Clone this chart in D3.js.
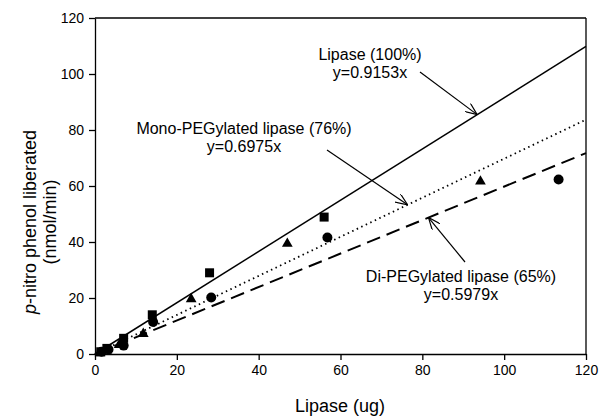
<!doctype html>
<html>
<head>
<meta charset="utf-8">
<script src="https://cdn.jsdelivr.net/npm/d3@7"></script>
<style>
  body { margin: 0; background: #fff; }
  text { font-family: "Liberation Sans", Arial, sans-serif; fill: #000; }
</style>
</head>
<body>
<script>

// Data
var lipaseX = [1.4, 2.9, 7, 14, 28, 56];
var lipaseY = [0.8, 2.0, 5.6, 14.0, 29.0, 48.9];
var monoX = [1.2, 2.9, 5.9, 11.8, 23.5, 47, 94.2];
var monoY = [0.5, 1.5, 3.4, 7.4, 19.8, 39.6, 61.8];
var diX = [1.6, 3.3, 7, 14.2, 28.4, 56.8, 113.3];
var diY = [0.8, 1.6, 3.0, 11.4, 20.2, 41.6, 62.3];

var fitNames = ["Lipase (100%)", "Mono-PEGylated lipase (76%)", "Di-PEGylated lipase (65%)"];
var fitSlopes = [0.9153, 0.6975, 0.5979];
var fitLabels = ["y=0.9153x", "y=0.6975x", "y=0.5979x"];
var arrowAtX = [93.4, 76.4, 81.5]; // where each arrow touches its line

var xTicks = [0, 20, 40, 60, 80, 100, 120];
var yTicks = [0, 20, 40, 60, 80, 100, 120];

// Graphics
var width = 601, height = 419;
var svg = d3.select("body").append("svg")
  .attr("width", width)
  .attr("height", height);

var xScale = d3.scaleLinear().domain([0, 120]).range([95, 586]);
var yScale = d3.scaleLinear().domain([0, 120]).range([354, 18]);

// frame
svg.append("line").attr("x1", 95).attr("x2", 586).attr("y1", 18).attr("y2", 18)
  .attr("stroke", "#000").attr("stroke-width", 1.3);
svg.append("line").attr("x1", 586).attr("x2", 586).attr("y1", 18).attr("y2", 354)
  .attr("stroke", "#000").attr("stroke-width", 1.3);

// Axis
var xAxis = d3.axisBottom(xScale).tickValues(xTicks).tickSize(6).tickSizeOuter(0).tickPadding(5);
var yAxis = d3.axisLeft(yScale).tickValues(yTicks).tickSize(6).tickSizeOuter(0).tickPadding(5);

var gx = svg.append("g").attr("transform", "translate(0,354)").call(xAxis);
var gy = svg.append("g").attr("transform", "translate(95,0)").call(yAxis);
[gx, gy].forEach(function(g) {
  g.selectAll("path, line").attr("stroke", "#000").attr("stroke-width", 1.3);
  g.selectAll("text").attr("font-size", 14).attr("font-family", "Liberation Sans, Arial, sans-serif").attr("fill", "#000");
});

svg.append("text").attr("x", 340).attr("y", 412).attr("text-anchor", "middle")
  .attr("font-size", 18).text("Lipase (ug)");

var yl = svg.append("text").attr("transform", "translate(36,222) rotate(-90)")
  .attr("text-anchor", "middle").attr("font-size", 18);
yl.append("tspan").attr("font-style", "italic").text("p");
yl.append("tspan").text("-nitro phenol liberated");
svg.append("text").attr("transform", "translate(56,222) rotate(-90)")
  .attr("text-anchor", "middle").attr("font-size", 18).text("(nmol/min)");

// Fit lines
var dashes = [null, "1.5,3.5", "14,7"];
var widths = [1.5, 1.8, 2];
fitSlopes.forEach(function(s, i) {
  svg.append("line")
    .attr("x1", xScale(0)).attr("y1", yScale(0))
    .attr("x2", xScale(120)).attr("y2", yScale(s * 120))
    .attr("stroke", "#000").attr("stroke-width", widths[i])
    .attr("stroke-dasharray", dashes[i]);
});

// Points
svg.selectAll("rect.pt").data(d3.zip(lipaseX, lipaseY)).enter().append("rect")
  .attr("x", function(d) { return xScale(d[0]) - 4.5; })
  .attr("y", function(d) { return yScale(d[1]) - 4.5; })
  .attr("width", 9).attr("height", 9).attr("fill", "#000");

svg.selectAll("path.tri").data(d3.zip(monoX, monoY)).enter().append("path")
  .attr("d", d3.symbol().type(d3.symbolTriangle).size(50))
  .attr("transform", function(d) { return "translate(" + xScale(d[0]) + "," + (yScale(d[1]) + 0.5) + ")"; })
  .attr("fill", "#000");

svg.selectAll("circle.pt").data(d3.zip(diX, diY)).enter().append("circle")
  .attr("cx", function(d) { return xScale(d[0]); })
  .attr("cy", function(d) { return yScale(d[1]); })
  .attr("r", 5).attr("fill", "#000");

// Annotations
svg.append("defs").append("marker")
  .attr("id", "arr").attr("viewBox", "0 0 12 10").attr("refX", 12).attr("refY", 5)
  .attr("markerWidth", 12).attr("markerHeight", 10).attr("markerUnits", "userSpaceOnUse")
  .attr("orient", "auto")
  .append("path").attr("d", "M0,0 L12,5 L0,10").attr("fill", "none").attr("stroke", "#000").attr("stroke-width", 1.2);

var labelPos = [[370, 60, 78], [244, 134, 152], [461, 282, 300]];
var arrowStart = [[420, 72], [327, 150], [465, 262]];

fitNames.forEach(function(n, i) {
  svg.append("text").attr("x", labelPos[i][0]).attr("y", labelPos[i][1])
    .attr("text-anchor", "middle").attr("font-size", 16).text(n);
  svg.append("text").attr("x", labelPos[i][0]).attr("y", labelPos[i][2])
    .attr("text-anchor", "middle").attr("font-size", 16).text(fitLabels[i]);
  svg.append("line")
    .attr("x1", arrowStart[i][0]).attr("y1", arrowStart[i][1])
    .attr("x2", xScale(arrowAtX[i])).attr("y2", yScale(fitSlopes[i] * arrowAtX[i]))
    .attr("stroke", "#000").attr("stroke-width", 1.2)
    .attr("marker-end", "url(#arr)");
});

</script>
</body>
</html>
